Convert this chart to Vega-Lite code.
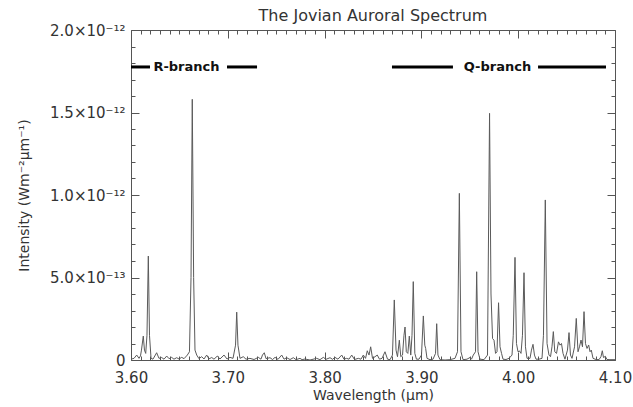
{
  "$schema": "https://vega.github.io/schema/vega-lite/v6.json",
  "width": 484,
  "height": 330,
  "autosize": {"type": "none"},
  "padding": {"left": 131, "top": 30, "right": 18, "bottom": 47},
  "background": "white",
  "title": {"text": "The Jovian Auroral Spectrum", "fontSize": 16, "font": "DejaVu Sans", "fontWeight": "normal", "color": "#333", "offset": -1},
  "config": {"view": {"stroke": null}, "font": "DejaVu Sans"},
  "datasets": {
    "spectrum": [
      {"wavelength": 3.6000, "intensity": 0.05e-13},
      {"wavelength": 3.6031, "intensity": 0.1e-13},
      {"wavelength": 3.6059, "intensity": 0.3e-13},
      {"wavelength": 3.6083, "intensity": 0.1e-13},
      {"wavelength": 3.6098, "intensity": 0.25e-13},
      {"wavelength": 3.6108, "intensity": 0.6e-13},
      {"wavelength": 3.6127, "intensity": 1.45e-13},
      {"wavelength": 3.6139, "intensity": 0.6e-13},
      {"wavelength": 3.6152, "intensity": 0.4e-13},
      {"wavelength": 3.6165, "intensity": 1.5e-13},
      {"wavelength": 3.6179, "intensity": 6.3e-13},
      {"wavelength": 3.6191, "intensity": 1.5e-13},
      {"wavelength": 3.6207, "intensity": 0.1e-13},
      {"wavelength": 3.6227, "intensity": 0.05e-13},
      {"wavelength": 3.6265, "intensity": 0.44e-13},
      {"wavelength": 3.6289, "intensity": 0.1e-13},
      {"wavelength": 3.6317, "intensity": 0.15e-13},
      {"wavelength": 3.6341, "intensity": 0.05e-13},
      {"wavelength": 3.6369, "intensity": 0.24e-13},
      {"wavelength": 3.6393, "intensity": 0.08e-13},
      {"wavelength": 3.6420, "intensity": 0.16e-13},
      {"wavelength": 3.6444, "intensity": 0.05e-13},
      {"wavelength": 3.6472, "intensity": 0.14e-13},
      {"wavelength": 3.6496, "intensity": 0.06e-13},
      {"wavelength": 3.6524, "intensity": 0.16e-13},
      {"wavelength": 3.6548, "intensity": 0.08e-13},
      {"wavelength": 3.6582, "intensity": 0.3e-13},
      {"wavelength": 3.6604, "intensity": 0.5e-13},
      {"wavelength": 3.6620, "intensity": 5.0e-13},
      {"wavelength": 3.6633, "intensity": 15.8e-13},
      {"wavelength": 3.6647, "intensity": 5.0e-13},
      {"wavelength": 3.6661, "intensity": 0.6e-13},
      {"wavelength": 3.6679, "intensity": 0.3e-13},
      {"wavelength": 3.6702, "intensity": 0.08e-13},
      {"wavelength": 3.6730, "intensity": 0.2e-13},
      {"wavelength": 3.6754, "intensity": 0.06e-13},
      {"wavelength": 3.6782, "intensity": 0.3e-13},
      {"wavelength": 3.6806, "intensity": 0.07e-13},
      {"wavelength": 3.6834, "intensity": 0.15e-13},
      {"wavelength": 3.6857, "intensity": 0.05e-13},
      {"wavelength": 3.6892, "intensity": 0.24e-13},
      {"wavelength": 3.6919, "intensity": 0.06e-13},
      {"wavelength": 3.6961, "intensity": 0.3e-13},
      {"wavelength": 3.6992, "intensity": 0.06e-13},
      {"wavelength": 3.7023, "intensity": 0.16e-13},
      {"wavelength": 3.7054, "intensity": 0.1e-13},
      {"wavelength": 3.7080, "intensity": 0.9e-13},
      {"wavelength": 3.7092, "intensity": 2.9e-13},
      {"wavelength": 3.7105, "intensity": 0.9e-13},
      {"wavelength": 3.7126, "intensity": 0.1e-13},
      {"wavelength": 3.7160, "intensity": 0.2e-13},
      {"wavelength": 3.7188, "intensity": 0.05e-13},
      {"wavelength": 3.7229, "intensity": 0.1e-13},
      {"wavelength": 3.7271, "intensity": 0.03e-13},
      {"wavelength": 3.7315, "intensity": 0.16e-13},
      {"wavelength": 3.7343, "intensity": 0.05e-13},
      {"wavelength": 3.7358, "intensity": 0.3e-13},
      {"wavelength": 3.7377, "intensity": 0.44e-13},
      {"wavelength": 3.7395, "intensity": 0.08e-13},
      {"wavelength": 3.7436, "intensity": 0.14e-13},
      {"wavelength": 3.7462, "intensity": 0.03e-13},
      {"wavelength": 3.7488, "intensity": 0.16e-13},
      {"wavelength": 3.7519, "intensity": 0.04e-13},
      {"wavelength": 3.7557, "intensity": 0.3e-13},
      {"wavelength": 3.7581, "intensity": 0.05e-13},
      {"wavelength": 3.7608, "intensity": 0.14e-13},
      {"wavelength": 3.7643, "intensity": 0.03e-13},
      {"wavelength": 3.7677, "intensity": 0.14e-13},
      {"wavelength": 3.7705, "intensity": 0.02e-13},
      {"wavelength": 3.7746, "intensity": 0.1e-13},
      {"wavelength": 3.7767, "intensity": 0.02e-13},
      {"wavelength": 3.7798, "intensity": 0.06e-13},
      {"wavelength": 3.7849, "intensity": 0.0},
      {"wavelength": 3.7918, "intensity": 0.1e-13},
      {"wavelength": 3.7952, "intensity": 0.02e-13},
      {"wavelength": 3.7987, "intensity": 0.16e-13},
      {"wavelength": 3.8014, "intensity": 0.04e-13},
      {"wavelength": 3.8056, "intensity": 0.14e-13},
      {"wavelength": 3.8082, "intensity": 0.04e-13},
      {"wavelength": 3.8107, "intensity": 0.16e-13},
      {"wavelength": 3.8138, "intensity": 0.05e-13},
      {"wavelength": 3.8177, "intensity": 0.3e-13},
      {"wavelength": 3.8200, "intensity": 0.05e-13},
      {"wavelength": 3.8228, "intensity": 0.1e-13},
      {"wavelength": 3.8252, "intensity": 0.05e-13},
      {"wavelength": 3.8280, "intensity": 0.3e-13},
      {"wavelength": 3.8309, "intensity": 0.03e-13},
      {"wavelength": 3.8348, "intensity": 0.1e-13},
      {"wavelength": 3.8376, "intensity": 0.05e-13},
      {"wavelength": 3.8400, "intensity": 0.3e-13},
      {"wavelength": 3.8423, "intensity": 0.1e-13},
      {"wavelength": 3.8441, "intensity": 0.56e-13},
      {"wavelength": 3.8459, "intensity": 0.3e-13},
      {"wavelength": 3.8476, "intensity": 0.8e-13},
      {"wavelength": 3.8495, "intensity": 0.1e-13},
      {"wavelength": 3.8521, "intensity": 0.2e-13},
      {"wavelength": 3.8544, "intensity": 0.3e-13},
      {"wavelength": 3.8567, "intensity": 0.05e-13},
      {"wavelength": 3.8593, "intensity": 0.1e-13},
      {"wavelength": 3.8624, "intensity": 0.5e-13},
      {"wavelength": 3.8650, "intensity": 0.05e-13},
      {"wavelength": 3.8676, "intensity": 0.02e-13},
      {"wavelength": 3.8701, "intensity": 0.3e-13},
      {"wavelength": 3.8720, "intensity": 3.64e-13},
      {"wavelength": 3.8738, "intensity": 0.6e-13},
      {"wavelength": 3.8753, "intensity": 0.2e-13},
      {"wavelength": 3.8772, "intensity": 1.2e-13},
      {"wavelength": 3.8787, "intensity": 0.2e-13},
      {"wavelength": 3.8805, "intensity": 0.3e-13},
      {"wavelength": 3.8820, "intensity": 1.5e-13},
      {"wavelength": 3.8831, "intensity": 2.0e-13},
      {"wavelength": 3.8844, "intensity": 0.5e-13},
      {"wavelength": 3.8860, "intensity": 0.4e-13},
      {"wavelength": 3.8875, "intensity": 1.45e-13},
      {"wavelength": 3.8890, "intensity": 0.3e-13},
      {"wavelength": 3.8903, "intensity": 1.5e-13},
      {"wavelength": 3.8916, "intensity": 4.75e-13},
      {"wavelength": 3.8932, "intensity": 0.4e-13},
      {"wavelength": 3.8949, "intensity": 0.05e-13},
      {"wavelength": 3.8975, "intensity": 0.05e-13},
      {"wavelength": 3.9001, "intensity": 0.3e-13},
      {"wavelength": 3.9020, "intensity": 2.67e-13},
      {"wavelength": 3.9035, "intensity": 0.9e-13},
      {"wavelength": 3.9044, "intensity": 0.7e-13},
      {"wavelength": 3.9058, "intensity": 0.1e-13},
      {"wavelength": 3.9089, "intensity": 0.02e-13},
      {"wavelength": 3.9120, "intensity": 0.05e-13},
      {"wavelength": 3.9146, "intensity": 0.4e-13},
      {"wavelength": 3.9158, "intensity": 2.2e-13},
      {"wavelength": 3.9171, "intensity": 0.3e-13},
      {"wavelength": 3.9192, "intensity": 0.02e-13},
      {"wavelength": 3.9244, "intensity": 0.0},
      {"wavelength": 3.9295, "intensity": 0.02e-13},
      {"wavelength": 3.9347, "intensity": 0.1e-13},
      {"wavelength": 3.9373, "intensity": 0.5e-13},
      {"wavelength": 3.9392, "intensity": 10.1e-13},
      {"wavelength": 3.9409, "intensity": 0.5e-13},
      {"wavelength": 3.9430, "intensity": 0.02e-13},
      {"wavelength": 3.9471, "intensity": 0.05e-13},
      {"wavelength": 3.9502, "intensity": 0.15e-13},
      {"wavelength": 3.9518, "intensity": 0.05e-13},
      {"wavelength": 3.9536, "intensity": 0.3e-13},
      {"wavelength": 3.9559, "intensity": 0.5e-13},
      {"wavelength": 3.9571, "intensity": 5.35e-13},
      {"wavelength": 3.9585, "intensity": 0.5e-13},
      {"wavelength": 3.9605, "intensity": 0.05e-13},
      {"wavelength": 3.9647, "intensity": 0.02e-13},
      {"wavelength": 3.9683, "intensity": 0.3e-13},
      {"wavelength": 3.9704, "intensity": 14.95e-13},
      {"wavelength": 3.9719, "intensity": 4.0e-13},
      {"wavelength": 3.9735, "intensity": 1.3e-13},
      {"wavelength": 3.9750, "intensity": 1.2e-13},
      {"wavelength": 3.9766, "intensity": 0.4e-13},
      {"wavelength": 3.9781, "intensity": 0.5e-13},
      {"wavelength": 3.9797, "intensity": 3.47e-13},
      {"wavelength": 3.9812, "intensity": 0.8e-13},
      {"wavelength": 3.9828, "intensity": 0.4e-13},
      {"wavelength": 3.9843, "intensity": 0.05e-13},
      {"wavelength": 3.9874, "intensity": 0.03e-13},
      {"wavelength": 3.9905, "intensity": 0.1e-13},
      {"wavelength": 3.9936, "intensity": 0.3e-13},
      {"wavelength": 3.9949, "intensity": 1.5e-13},
      {"wavelength": 3.9967, "intensity": 6.22e-13},
      {"wavelength": 3.9982, "intensity": 1.0e-13},
      {"wavelength": 3.9998, "intensity": 0.5e-13},
      {"wavelength": 4.0013, "intensity": 0.55e-13},
      {"wavelength": 4.0029, "intensity": 0.4e-13},
      {"wavelength": 4.0044, "intensity": 1.5e-13},
      {"wavelength": 4.0060, "intensity": 5.29e-13},
      {"wavelength": 4.0075, "intensity": 0.8e-13},
      {"wavelength": 4.0091, "intensity": 0.1e-13},
      {"wavelength": 4.0122, "intensity": 0.1e-13},
      {"wavelength": 4.0137, "intensity": 0.6e-13},
      {"wavelength": 4.0153, "intensity": 0.95e-13},
      {"wavelength": 4.0168, "intensity": 0.3e-13},
      {"wavelength": 4.0184, "intensity": 0.05e-13},
      {"wavelength": 4.0215, "intensity": 0.05e-13},
      {"wavelength": 4.0246, "intensity": 0.1e-13},
      {"wavelength": 4.0261, "intensity": 1.5e-13},
      {"wavelength": 4.0280, "intensity": 9.7e-13},
      {"wavelength": 4.0298, "intensity": 1.0e-13},
      {"wavelength": 4.0318, "intensity": 0.3e-13},
      {"wavelength": 4.0334, "intensity": 0.2e-13},
      {"wavelength": 4.0349, "intensity": 0.8e-13},
      {"wavelength": 4.0363, "intensity": 1.72e-13},
      {"wavelength": 4.0378, "intensity": 0.5e-13},
      {"wavelength": 4.0396, "intensity": 0.4e-13},
      {"wavelength": 4.0416, "intensity": 1.1e-13},
      {"wavelength": 4.0432, "intensity": 0.9e-13},
      {"wavelength": 4.0447, "intensity": 1.0e-13},
      {"wavelength": 4.0463, "intensity": 0.4e-13},
      {"wavelength": 4.0483, "intensity": 0.05e-13},
      {"wavelength": 4.0509, "intensity": 0.6e-13},
      {"wavelength": 4.0525, "intensity": 1.66e-13},
      {"wavelength": 4.0540, "intensity": 0.3e-13},
      {"wavelength": 4.0556, "intensity": 0.1e-13},
      {"wavelength": 4.0582, "intensity": 0.8e-13},
      {"wavelength": 4.0600, "intensity": 2.52e-13},
      {"wavelength": 4.0618, "intensity": 0.5e-13},
      {"wavelength": 4.0633, "intensity": 0.8e-13},
      {"wavelength": 4.0649, "intensity": 1.21e-13},
      {"wavelength": 4.0664, "intensity": 0.8e-13},
      {"wavelength": 4.0680, "intensity": 2.93e-13},
      {"wavelength": 4.0695, "intensity": 1.0e-13},
      {"wavelength": 4.0711, "intensity": 0.7e-13},
      {"wavelength": 4.0728, "intensity": 0.91e-13},
      {"wavelength": 4.0742, "intensity": 0.5e-13},
      {"wavelength": 4.0755, "intensity": 0.6e-13},
      {"wavelength": 4.0773, "intensity": 0.1e-13},
      {"wavelength": 4.0804, "intensity": 0.03e-13},
      {"wavelength": 4.0835, "intensity": 0.02e-13},
      {"wavelength": 4.0855, "intensity": 0.2e-13},
      {"wavelength": 4.0869, "intensity": 0.56e-13},
      {"wavelength": 4.0881, "intensity": 0.15e-13},
      {"wavelength": 4.0900, "intensity": 0.22e-13},
      {"wavelength": 4.0917, "intensity": 0.03e-13},
      {"wavelength": 4.0948, "intensity": 0.02e-13},
      {"wavelength": 4.1000, "intensity": 0.02e-13}
    ],
    "segments": [
      {"branch": "R-branch", "side": "left", "start": 3.6, "end": 3.6196, "level": 1.776e-12},
      {"branch": "R-branch", "side": "right", "start": 3.6992, "end": 3.7302, "level": 1.776e-12},
      {"branch": "Q-branch", "side": "left", "start": 3.8696, "end": 3.9326, "level": 1.776e-12},
      {"branch": "Q-branch", "side": "right", "start": 4.0205, "end": 4.0907, "level": 1.776e-12}
    ],
    "labels": [
      {"branch": "R-branch", "center": 3.6573, "level": 1.776e-12},
      {"branch": "Q-branch", "center": 3.9786, "level": 1.776e-12}
    ]
  },
  "resolve": {"axis": {"x": "independent", "y": "independent"}},
  "layer": [
    {
      "data": {"name": "spectrum"},
      "mark": {"type": "line", "color": "#5a5a5a", "strokeWidth": 1},
      "encoding": {
        "x": {
          "field": "wavelength", "type": "quantitative",
          "scale": {"domain": [3.6, 4.1], "nice": false, "zero": false},
          "axis": {
            "orient": "bottom", "values": [3.6, 3.7, 3.8, 3.9, 4.0, 4.1], "format": ".2f",
            "title": "Wavelength (μm)", "titleFontSize": 14, "titleFontWeight": "normal", "titleColor": "#333", "titlePadding": 3,
            "labelFontSize": 15, "labelColor": "#333", "labelPadding": 18, "labelFlush": false,
            "tickSize": -8, "tickColor": "#555", "domainColor": "#555", "grid": false
          }
        },
        "y": {
          "field": "intensity", "type": "quantitative",
          "scale": {"domain": [0, 2e-12], "nice": false},
          "axis": {
            "orient": "left", "values": [0, 5e-13, 1e-12, 1.5e-12, 2e-12],
            "labelExpr": "datum.value < 1e-14 ? '0' : datum.value < 7e-13 ? '5.0×10⁻¹³' : datum.value < 1.2e-12 ? '1.0×10⁻¹²' : datum.value < 1.7e-12 ? '1.5×10⁻¹²' : '2.0×10⁻¹²'",
            "title": "Intensity (Wm⁻²μm⁻¹)", "titleFontSize": 14, "titleFontWeight": "normal", "titleColor": "#333", "titlePadding": 18,
            "labelFontSize": 15, "labelColor": "#333", "labelPadding": 14, "labelFlush": false,
            "tickSize": -8, "tickColor": "#555", "domainColor": "#555", "grid": false
          }
        }
      }
    },
    {
      "data": {"name": "segments"},
      "transform": [{"filter": "datum.side == 'left'"}],
      "mark": {"type": "rule", "color": "#000", "strokeWidth": 3},
      "encoding": {
        "x": {
          "field": "start", "type": "quantitative",
          "axis": {
            "orient": "bottom", "values": [3.61, 3.62, 3.63, 3.64, 3.65, 3.66, 3.67, 3.68, 3.69, 3.71, 3.72, 3.73, 3.74, 3.75, 3.76, 3.77, 3.78, 3.79, 3.81, 3.82, 3.83, 3.84, 3.85, 3.86, 3.87, 3.88, 3.89, 3.91, 3.92, 3.93, 3.94, 3.95, 3.96, 3.97, 3.98, 3.99, 4.01, 4.02, 4.03, 4.04, 4.05, 4.06, 4.07, 4.08, 4.09],
            "labels": false, "domain": false, "title": null, "grid": false, "tickSize": -4, "tickColor": "#555"
          }
        },
        "x2": {"field": "end"},
        "y": {
          "field": "level", "type": "quantitative",
          "axis": {
            "orient": "left", "values": [1e-13, 2e-13, 3e-13, 4e-13, 6e-13, 7e-13, 8e-13, 9e-13, 1.1e-12, 1.2e-12, 1.3e-12, 1.4e-12, 1.6e-12, 1.7e-12, 1.8e-12, 1.9e-12],
            "labels": false, "domain": false, "title": null, "grid": false, "tickSize": -4, "tickColor": "#555"
          }
        }
      }
    },
    {
      "data": {"name": "segments"},
      "transform": [{"filter": "datum.side == 'right'"}],
      "mark": {"type": "rule", "color": "#000", "strokeWidth": 3},
      "encoding": {
        "x": {
          "field": "start", "type": "quantitative",
          "axis": {
            "orient": "top", "values": [3.6, 3.7, 3.8, 3.9, 4.0, 4.1],
            "labels": false, "title": null, "grid": false, "tickSize": -8, "tickColor": "#555", "domainColor": "#555"
          }
        },
        "x2": {"field": "end"},
        "y": {
          "field": "level", "type": "quantitative",
          "axis": {
            "orient": "right", "values": [0, 5e-13, 1e-12, 1.5e-12, 2e-12],
            "labels": false, "title": null, "grid": false, "tickSize": -8, "tickColor": "#555", "domainColor": "#555"
          }
        }
      }
    },
    {
      "data": {"name": "labels"},
      "mark": {"type": "text", "fontSize": 13, "fontWeight": "bold", "color": "#111", "align": "center", "baseline": "middle", "font": "DejaVu Sans"},
      "encoding": {
        "text": {"field": "branch"},
        "x": {
          "field": "center", "type": "quantitative",
          "axis": {
            "orient": "top", "values": [3.61, 3.62, 3.63, 3.64, 3.65, 3.66, 3.67, 3.68, 3.69, 3.71, 3.72, 3.73, 3.74, 3.75, 3.76, 3.77, 3.78, 3.79, 3.81, 3.82, 3.83, 3.84, 3.85, 3.86, 3.87, 3.88, 3.89, 3.91, 3.92, 3.93, 3.94, 3.95, 3.96, 3.97, 3.98, 3.99, 4.01, 4.02, 4.03, 4.04, 4.05, 4.06, 4.07, 4.08, 4.09],
            "labels": false, "domain": false, "title": null, "grid": false, "tickSize": -4, "tickColor": "#555"
          }
        },
        "y": {
          "field": "level", "type": "quantitative",
          "axis": {
            "orient": "right", "values": [1e-13, 2e-13, 3e-13, 4e-13, 6e-13, 7e-13, 8e-13, 9e-13, 1.1e-12, 1.2e-12, 1.3e-12, 1.4e-12, 1.6e-12, 1.7e-12, 1.8e-12, 1.9e-12],
            "labels": false, "domain": false, "title": null, "grid": false, "tickSize": -4, "tickColor": "#555"
          }
        }
      }
    }
  ]
}
